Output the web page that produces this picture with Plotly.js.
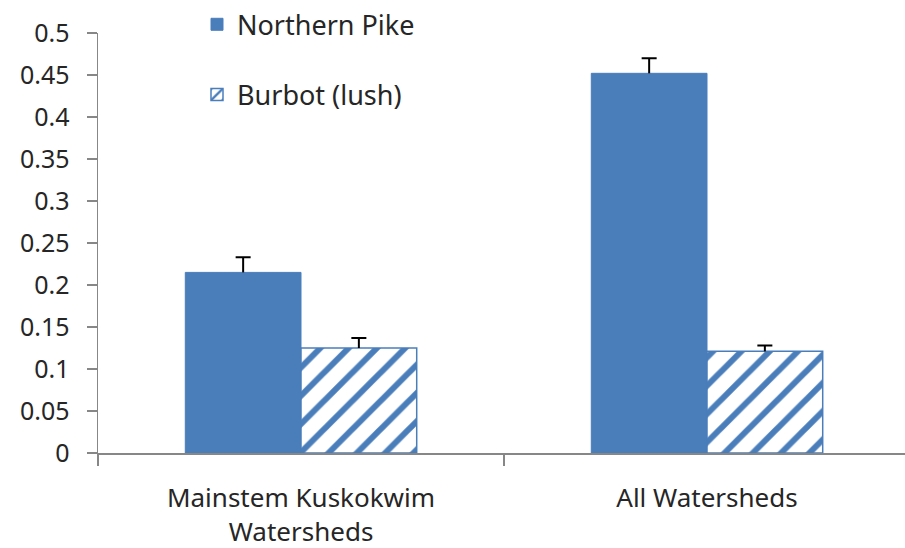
<!DOCTYPE html>
<html>
<head>
<meta charset="utf-8">
<script src="https://cdn.plot.ly/plotly-3.0.1.min.js"></script>
<style>
html, body { margin: 0; padding: 0; background: #ffffff; }
#chart { width: 905px; height: 548px; }
</style>
</head>
<body>
<div id="chart"></div>
<script>
var categories = ['Mainstem Kuskokwim Watersheds', 'All Watersheds'];
var categoryTickText = ['Mainstem Kuskokwim<br>Watersheds', 'All Watersheds'];
var seriesNames = ['Northern Pike', 'Burbot (lush)'];
var pikeValues = [0.215, 0.452];
var pikeErrors = [0.018, 0.018];
var burbotValues = [0.125, 0.121];
var burbotErrors = [0.012, 0.007];
var yTickVals = [0, 0.05, 0.1, 0.15, 0.2, 0.25, 0.3, 0.35, 0.4, 0.45, 0.5];
var yTickText = ['0', '0.05', '0.1', '0.15', '0.2', '0.25', '0.3', '0.35', '0.4', '0.45', '0.5'];

var BLUE = '#4a7ebb';
var FONT = 'Noto Sans, Open Sans, DejaVu Sans, sans-serif';

function tops(vals, errs) { return vals.map(function (v, i) { return v + errs[i]; }); }
function zeros(n) { var a = []; for (var i = 0; i < n; i++) a.push(0); return a; }

var traces = [
  {
    type: 'bar', name: seriesNames[0], x: categories, y: pikeValues,
    offsetgroup: 'pike', legendgroup: 'pike',
    marker: { color: BLUE, line: { color: BLUE, width: 1 } },
    error_y: { type: 'data', symmetric: false, array: pikeErrors, arrayminus: zeros(pikeErrors.length),
               color: '#000000', thickness: 2, width: 0 },
    hoverinfo: 'y'
  },
  {
    type: 'bar', name: seriesNames[1], x: categories, y: burbotValues,
    offsetgroup: 'burbot', legendgroup: 'burbot',
    marker: { color: '#ffffff', line: { color: BLUE, width: 1.5 },
              pattern: { shape: '/', fgcolor: BLUE, bgcolor: '#ffffff', size: 20, solidity: 0.3, fillmode: 'replace' } },
    error_y: { type: 'data', symmetric: false, array: burbotErrors, arrayminus: zeros(burbotErrors.length),
               color: '#000000', thickness: 2, width: 0 },
    hoverinfo: 'y'
  },
  {
    type: 'bar', name: 'pike cap', x: categories, y: tops(pikeValues, pikeErrors),
    offsetgroup: 'pike', showlegend: false, hoverinfo: 'skip',
    marker: { color: 'rgba(0,0,0,0)', line: { width: 0 } },
    error_y: { type: 'data', array: zeros(pikeErrors.length), color: '#000000', thickness: 2, width: 7.5 }
  },
  {
    type: 'bar', name: 'burbot cap', x: categories, y: tops(burbotValues, burbotErrors),
    offsetgroup: 'burbot', showlegend: false, hoverinfo: 'skip',
    marker: { color: 'rgba(0,0,0,0)', line: { width: 0 } },
    error_y: { type: 'data', array: zeros(burbotErrors.length), color: '#000000', thickness: 2, width: 7.5 }
  }
];

var plotLeft = 98, plotWidth = 905 - 98, catWidth = 406;

var layout = {
  width: 905, height: 548,
  margin: { l: plotLeft, r: 0, t: 33, b: 95, pad: 0 },
  paper_bgcolor: '#ffffff', plot_bgcolor: '#ffffff',
  barmode: 'group', bargap: 0.43, bargroupgap: 0,
  font: { family: FONT, size: 20, color: '#262626' },
  showlegend: true,
  legend: {
    x: (197 - plotLeft) / plotWidth, xanchor: 'left',
    y: 1.078, yanchor: 'top',
    bgcolor: 'rgba(0,0,0,0)', borderwidth: 0,
    traceorder: 'grouped', tracegroupgap: 32,
    font: { family: FONT, size: 27, color: '#262626' }
  },
  xaxis: {
    type: 'category',
    range: [-0.5, -0.5 + plotWidth / catWidth],
    tickmode: 'array', tickvals: categories, ticktext: categoryTickText,
    tickson: 'boundaries', ticks: 'outside', ticklen: 11, tickwidth: 1.5, tickcolor: '#878787',
    showline: true, linecolor: '#878787', linewidth: 1.5,
    showgrid: false, zeroline: false,
    ticklabelstandoff: 21,
    tickfont: { family: FONT, size: 26, color: '#262626' }
  },
  yaxis: {
    range: [0, 0.5],
    tickmode: 'array', tickvals: yTickVals, ticktext: yTickText,
    ticks: 'outside', ticklen: 10, tickwidth: 1.5, tickcolor: '#878787',
    showline: true, linecolor: '#878787', linewidth: 1.5,
    showgrid: false, zeroline: false,
    ticklabelstandoff: 12,
    tickfont: { family: FONT, size: 25, color: '#262626' }
  }
};

Plotly.newPlot('chart', traces, layout, { displayModeBar: false, staticPlot: true });
</script>
</body>
</html>
